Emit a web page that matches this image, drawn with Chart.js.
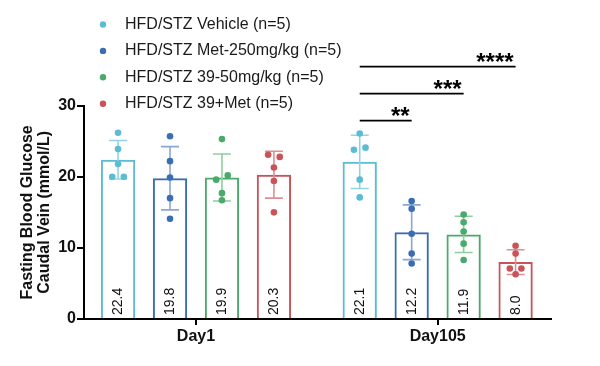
<!DOCTYPE html>
<html><head><meta charset="utf-8">
<script src="https://cdn.jsdelivr.net/npm/chart.js@4.4.0/dist/chart.umd.min.js"></script>
<style>html,body{margin:0;padding:0;background:#fff}#c{display:block}</style>
</head><body>
<canvas id="c" width="600" height="366"></canvas>
<script>
// ---- data ----
const categories = ['Day1', 'Day105'];
const seriesLabels = ['HFD/STZ Vehicle (n=5)', 'HFD/STZ Met-250mg/kg (n=5)', 'HFD/STZ 39-50mg/kg (n=5)', 'HFD/STZ 39+Met (n=5)'];
const vehicleMean = [22.4, 22.1];
const metMean = [19.8, 12.2];
const c39Mean = [19.9, 11.9];
const comboMean = [20.3, 8.0];
const vehicleSD = [2.7, 3.75];
const metSD = [4.45, 3.85];
const c39SD = [3.3, 2.55];
const comboSD = [3.3, 1.75];
const vehiclePoints = [[26.2, 23.9, 21.8, 20.0, 20.0], [26.1, 24.1, 23.8, 19.6, 17.1]];
const metPoints = [[25.7, 22.2, 19.9, 17.0, 14.1], [16.6, 15.5, 12.0, 9.2, 7.8]];
const c39Points = [[25.3, 20.2, 19.6, 17.7, 16.7], [14.7, 13.6, 12.3, 10.6, 8.3]];
const comboPoints = [[23.1, 22.8, 21.3, 19.4, 15.0], [10.3, 9.2, 7.1, 7.1, 6.3]];
const yTicks = [0, 10, 20, 30];
const sigLabels = ['**', '***', '****'];
const sigHeights = [27.9, 31.7, 35.5];

// ---- layout / style ----
const means = [vehicleMean, metMean, c39Mean, comboMean];
const sds = [vehicleSD, metSD, c39SD, comboSD];
const points = [vehiclePoints, metPoints, c39Points, comboPoints];
// horizontal jitter slots of dots (-1 left, 0 centre, 1 right)
const jitter = [
  [[0, 0, 0, -1, 1], [0, 1, -1, 0, 0]],
  [[0, 0, 0, 0, 0], [0, 0, 0, 0, 0]],
  [[0, 1, -1, 0, 0], [0, 0, 0, 0, 0]],
  [[-1, 1, 0, 0, 0], [0, 0, -1, 1, 0]]
];
const colors = ['#5bbcd4', '#3b6db3', '#4aaa6b', '#c8545a'];
const errColors = ['#94d3e3', '#8ba7d6', '#8fcd9f', '#dd8f92'];
const FONT = "'Liberation Sans', Arial, sans-serif";
const CAT_PCT = 0.86, BAR_PCT = 0.66, JIT = 0.024;
const slot = i => (i - 1.5) * CAT_PCT / 4;

const barSets = seriesLabels.map((lab, i) => ({
  type: 'bar', label: lab,
  data: means[i].map((v, g) => ({x: g, y: v})),
  backgroundColor: 'rgba(255,255,255,0)', borderColor: colors[i], borderWidth: 2,
  categoryPercentage: CAT_PCT, barPercentage: BAR_PCT, order: 1
}));
const dotSets = seriesLabels.map((lab, i) => ({
  type: 'scatter', label: lab + ' points',
  data: points[i].flatMap((arr, g) => arr.map((v, j) => ({x: g + slot(i) + jitter[i][g][j] * JIT, y: v}))),
  backgroundColor: colors[i], borderWidth: 0, pointRadius: 3.3, pointHoverRadius: 3.3, order: 0
}));

const errPlugin = {
  id: 'errbars',
  afterDatasetDraw(chart, args) {
    const meta = args.meta;
    if (meta.type !== 'bar') return;
    const i = args.index, ctx = chart.ctx, y = chart.scales.y;
    ctx.save();
    ctx.strokeStyle = errColors[i]; ctx.lineWidth = 1.6;
    meta.data.forEach((bar, g) => {
      const m = means[i][g], s = sds[i][g];
      const yt = y.getPixelForValue(m + s), yb = y.getPixelForValue(m - s);
      ctx.beginPath();
      ctx.moveTo(bar.x, yt); ctx.lineTo(bar.x, yb);
      ctx.moveTo(bar.x - 9, yt); ctx.lineTo(bar.x + 9, yt);
      ctx.moveTo(bar.x - 9, yb); ctx.lineTo(bar.x + 9, yb);
      ctx.stroke();
    });
    ctx.restore();
  }
};

const decoPlugin = {
  id: 'deco',
  afterDraw(chart) {
    const ctx = chart.ctx, y = chart.scales.y;
    ctx.save();
    // value labels inside bars
    ctx.fillStyle = '#111';
    ctx.font = '14px ' + FONT;
    for (let i = 0; i < 4; i++) {
      chart.getDatasetMeta(i).data.forEach((bar, g) => {
        ctx.save();
        ctx.translate(bar.x + 0.5, bar.base - 3);
        ctx.rotate(-Math.PI / 2);
        ctx.textAlign = 'left'; ctx.textBaseline = 'middle';
        ctx.fillText(means[i][g].toFixed(1), 0, 0);
        ctx.restore();
      });
    }
    // significance brackets (Day105: vehicle vs others)
    const ref = chart.getDatasetMeta(0).data[1];
    ctx.strokeStyle = '#000'; ctx.lineWidth = 1.8; ctx.fillStyle = '#000';
    ctx.font = 'bold 24px ' + FONT; ctx.textAlign = 'right'; ctx.textBaseline = 'alphabetic';
    for (let k = 0; k < 3; k++) {
      const other = chart.getDatasetMeta(k + 1).data[1];
      const py = y.getPixelForValue(sigHeights[k]);
      ctx.beginPath(); ctx.moveTo(ref.x, py); ctx.lineTo(other.x, py); ctx.stroke();
      ctx.fillText(sigLabels[k], other.x - 2, py + 3);
    }
    // legend
    ctx.font = '16px ' + FONT; ctx.textAlign = 'left'; ctx.textBaseline = 'middle';
    seriesLabels.forEach((lab, i) => {
      const ly = 24.5 + i * 26.4;
      ctx.fillStyle = colors[i];
      ctx.beginPath(); ctx.arc(103, ly, 3.2, 0, Math.PI * 2); ctx.fill();
      ctx.fillStyle = '#1a1a1a';
      ctx.fillText(lab, 125, ly);
    });
    ctx.restore();
  }
};

new Chart(document.getElementById('c'), {
  type: 'bar',
  data: {datasets: [...barSets, ...dotSets]},
  options: {
    responsive: false, animation: false,
    layout: {padding: {left: 0, right: 49, top: 105.7, bottom: 0}},
    plugins: {legend: {display: false}, tooltip: {enabled: false}},
    scales: {
      x: {
        type: 'linear', min: -0.4634, max: 1.469, offset: false,
        afterBuildTicks: s => { s.ticks = categories.map((c, g) => ({value: g})); },
        ticks: {callback: v => categories[Math.round(v)], font: {family: FONT, size: 16, weight: 'bold'}, color: '#111', padding: 2, maxRotation: 0, autoSkip: false},
        grid: {offset: false, drawOnChartArea: false, drawTicks: true, tickLength: 6, color: '#000', lineWidth: 2},
        border: {display: true, color: '#000', width: 2},
        afterFit: s => { s.height = 47; }
      },
      y: {
        min: 0, max: 30,
        afterBuildTicks: s => { s.ticks = yTicks.map(v => ({value: v})); },
        ticks: {font: {family: FONT, size: 16, weight: 'bold'}, color: '#111', padding: 1},
        grid: {drawOnChartArea: false, drawTicks: true, tickLength: 7, color: '#000', lineWidth: 2},
        border: {display: true, color: '#000', width: 2},
        title: {display: true, text: ['Fasting Blood Glucose', 'Caudal Vein (mmol/L)'], color: '#111',
          font: {family: FONT, size: 16, weight: 'bold', lineHeight: 1.08}, padding: {top: 18.5, bottom: 0}},
        afterFit: s => { s.width = 84; }
      }
    }
  },
  plugins: [errPlugin, decoPlugin]
});
</script>
</body></html>
